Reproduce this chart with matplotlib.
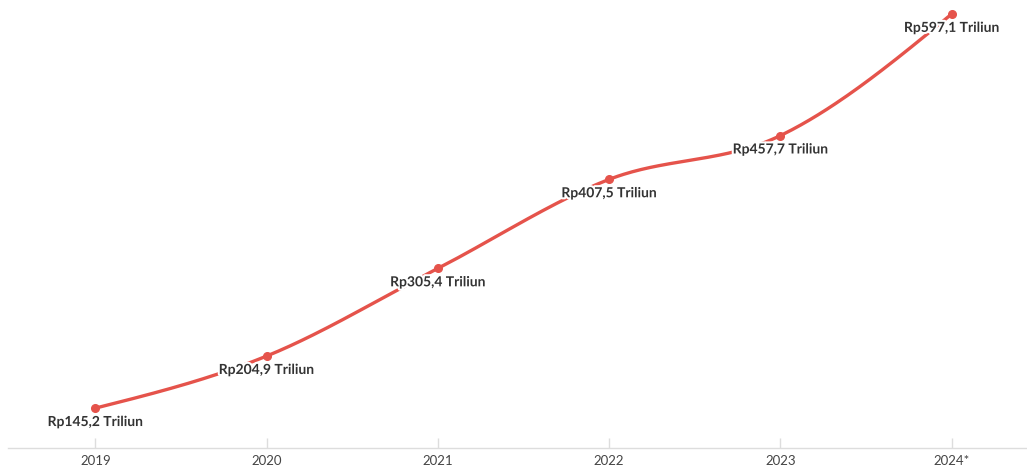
"""Line chart: yearly values in trillion rupiah, smooth monotone curve with point labels."""
import numpy as np
import matplotlib
matplotlib.use("Agg")
import matplotlib.pyplot as plt
import matplotlib.patheffects as pe

years = [2019, 2020, 2021, 2022, 2023, 2024]
year_labels = ["2019", "2020", "2021", "2022", "2023", "2024*"]
values = [145.2, 204.9, 305.4, 407.5, 457.7, 597.1]
value_labels = ["Rp145,2 Triliun", "Rp204,9 Triliun", "Rp305,4 Triliun",
                "Rp407,5 Triliun", "Rp457,7 Triliun", "Rp597,1 Triliun"]

LINE_COLOR = "#e5534b"
plt.rcParams["font.family"] = ["Lato", "DejaVu Sans"]


def monotone_curve(x, y, n=60):
    """Monotone cubic (Fritsch-Carlson / d3 curveMonotoneX) path through the points."""
    x = np.asarray(x, float)
    y = np.asarray(y, float)
    h = np.diff(x)
    s = np.diff(y) / h
    t = np.zeros_like(y)
    for i in range(1, len(x) - 1):
        p = (s[i - 1] * h[i] + s[i] * h[i - 1]) / (h[i - 1] + h[i])
        t[i] = (np.sign(s[i - 1]) + np.sign(s[i])) * min(abs(s[i - 1]), abs(s[i]), 0.5 * abs(p))
    t[0] = (3 * s[0] - t[1]) / 2
    t[-1] = (3 * s[-1] - t[-2]) / 2
    xs, ys = [], []
    for i in range(len(x) - 1):
        u = np.linspace(0, 1, n)
        h00 = 2 * u**3 - 3 * u**2 + 1
        h10 = u**3 - 2 * u**2 + u
        h01 = -2 * u**3 + 3 * u**2
        h11 = u**3 - u**2
        xs.append(x[i] + u * h[i])
        ys.append(h00 * y[i] + h10 * h[i] * t[i] + h01 * y[i + 1] + h11 * h[i] * t[i + 1])
    return np.concatenate(xs), np.concatenate(ys)


fig = plt.figure(figsize=(10.27, 4.66), dpi=100)
ax = fig.add_axes([8 / 1027, 1 - 448 / 466, 1 - 8 / 1027, (448 - 11.5) / 466])

cx, cy = monotone_curve(years, values)
ax.plot(cx, cy, color=LINE_COLOR, lw=2.4, solid_capstyle="round", zorder=2, clip_on=False)
ax.plot(years, values, "o", color=LINE_COLOR, ms=5.5, zorder=3, clip_on=False)

for xv, yv, lab in zip(years, values, value_labels):
    ax.annotate(lab, (xv, yv), xytext=(0, -10), textcoords="offset points",
                ha="center", va="center", fontsize=10, fontweight="bold", color="#333333",
                path_effects=[pe.withStroke(linewidth=3, foreground="white")], zorder=4,
                annotation_clip=False)

ax.set_xlim(2018.49, 2024.44)
ax.set_ylim(99.5, 600)
ax.set_xticks(years)
ax.set_xticklabels(year_labels)
ax.set_yticks([])
for side in ["top", "right", "left"]:
    ax.spines[side].set_visible(False)
ax.spines["bottom"].set_color("#dddddd")
ax.spines["bottom"].set_linewidth(1)
ax.tick_params(axis="x", direction="in", length=7, width=1, color="#dddddd",
               labelsize=9.5, labelcolor="#444444", pad=5)

fig.savefig("out.png", dpi=100)
